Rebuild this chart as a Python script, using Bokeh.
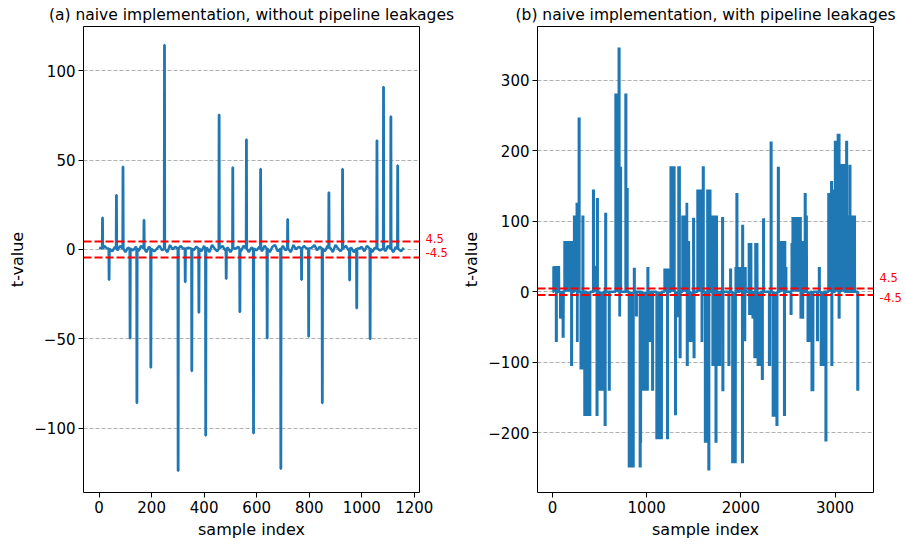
import numpy as np
from bokeh.plotting import figure
from bokeh.layouts import row
from bokeh.models import FixedTicker, Span, CustomJSTickFormatter, Range1d, LinearAxis
from bokeh.embed import file_html
from bokeh.resources import INLINE

# ---------------- data: panel (a) ----------------
a_spike_idx = [13, 38, 66, 91, 118, 144, 171, 197, 249, 301, 328, 353, 380, 406,
               457, 484, 509, 536, 561, 588, 615, 640, 692, 718, 771, 798, 850,
               875, 927, 954, 981, 1032, 1058, 1083, 1111, 1137]
a_spike_val = [17.8, -16.9, 30.4, 46.3, -49.7, -85.9, 16.5, -66.0, 114.4, -123.7,
               -18.2, -68.0, -35.2, -104.0, 75.4, -16.3, 45.9, -35.0, 61.5, -102.7,
               45.0, -49.7, -122.6, 16.9, -16.9, -48.7, -85.9, 31.9, 45.0, -17.2,
               -32.8, -50.0, 60.9, 90.9, 74.4, 46.9]
a_noise_step = 10
a_noise_val = [1.0, -1.5, 2.0, 0.5, 2.5, -1.0, 1.5, -0.5, 2.0, 0.0, -1.5, 1.0, 2.5, -0.5, 1.5, -1.0, 2.0, 0.5, -1.5, 1.5,
               2.5, -1.0, 0.5, 2.0, -0.5, 1.0, -1.5, 2.5, 0.0, 1.5, -1.0, 2.0, 0.5, -1.5, 1.0, 2.5, -0.5, 1.5, 0.0, -1.0,
               2.0, 1.0, -1.5, 2.5, 0.5, -1.0, 1.5, 2.0, -0.5, 1.0, -1.5, 2.5, 0.5, 1.5, -1.0, 2.0, 0.0, -1.5, 1.0, 2.5,
               -0.5, 1.5, -1.0, 2.0, 0.5, -1.5, 1.5, 2.5, -1.0, 0.5, 2.0, -0.5, 1.0, -1.5, 2.5, 0.0, 1.5, -1.0, 2.0, 0.5,
               -1.5, 1.0, 2.5, -0.5, 1.5, 0.0, -1.0, 2.0, 1.0, -1.5, 2.5, 0.5, -1.0, 1.5, 2.0, -0.5, 1.0, -1.5, 2.5, 0.5,
               1.5, -1.0, 2.0, 0.0, -1.5, 1.0, 2.5, -0.5, 1.5, -1.0, 2.0, 0.5, -1.5, 1.5, 2.5, -1.0, 1.0]

# ---------------- data: panel (b) (blocks: start, end, level) ----------------
b_start = [11, 38, 82, 110, 128, 200, 230, 258, 262, 280, 300, 320, 340, 432, 440,
           470, 474, 500, 556, 562, 600, 670, 704, 712, 720, 776, 790, 812, 866,
           888, 928, 935, 950, 1010, 1035, 1060, 1105, 1190, 1218, 1255, 1303,
           1310, 1338, 1352, 1380, 1425, 1428, 1445, 1460, 1495, 1500, 1540, 1585,
           1598, 1620, 1645, 1657, 1690, 1700, 1733, 1760, 1803, 1806, 1870, 1888,
           1910, 1945, 1955, 1990, 2014, 2016, 2035, 2040, 2085, 2090, 2125, 2145,
           2155, 2180, 2225, 2238, 2300, 2318, 2340, 2380, 2395, 2415, 2460, 2475,
           2530, 2540, 2550, 2635, 2650, 2680, 2695, 2710, 2752, 2810, 2830, 2850,
           2900, 2930, 2960, 2963, 2975, 3000, 3030, 3040, 3060, 3120, 3135, 3155,
           3200, 3238]
b_end = [70, 44, 100, 118, 212, 206, 260, 262, 266, 286, 360, 326, 400, 438, 480,
         476, 480, 540, 562, 568, 606, 700, 710, 716, 726, 782, 796, 860, 872,
         894, 934, 940, 1010, 1016, 1040, 1066, 1160, 1230, 1224, 1295, 1309,
         1340, 1350, 1358, 1420, 1430, 1434, 1450, 1500, 1502, 1506, 1585, 1590,
         1604, 1655, 1675, 1663, 1745, 1740, 1739, 1780, 1809, 1812, 1876, 1894,
         1945, 1975, 1961, 2010, 2020, 2022, 2045, 2050, 2110, 2110, 2140, 2160,
         2175, 2210, 2231, 2244, 2310, 2324, 2380, 2386, 2401, 2470, 2466, 2481,
         2536, 2550, 2635, 2660, 2670, 2686, 2700, 2740, 2768, 2816, 2836, 2880,
         2906, 2965, 2966, 2969, 2995, 3030, 3045, 3046, 3100, 3126, 3175, 3161,
         3210, 3244]
b_level = [36, -71, -38, -65, 72, -105, 108, 126, -71, 247, -110, 108, -176, 145,
           37, -176, 133, -140, -190, 112, -140, 281, 346, -35, 177, 281, 147, -249,
           34, -35, -249, -214, -140, 35, -71, -140, -209, 33, -209, 178, -175, -36,
           178, -94, 108, 126, -105, 72, -71, 105, -94, 145, -71, 178, -214, 145,
           -253, 108, -105, -214, -105, 106, -141, -105, 33, -243, 35, 140, 35,
           -243, 95, -70, 35, 69, -33, -38, -94, 69, -105, -125, 104, -105, 213,
           -177, -190, 177, 72, -176, 35, -33, 69, 106, -38, 72, 140, 108, -71,
           -141, -70, 35, -105, -212, 140, 157, -105, 145, 214, 224, -38, 181, 214,
           108, 180, 108, -140]
b_last_sample = 3245

threshold = 4.5

a_xticks = [0, 200, 400, 600, 800, 1000, 1200]
a_yticks = [-100, -50, 0, 50, 100]
b_xticks = [0, 1000, 2000, 3000]
b_yticks = [-200, -100, 0, 100, 200, 300]


# ---------------- build line series ----------------
def series_a():
    pts = []
    for k, v in enumerate(a_noise_val):
        x = k * a_noise_step
        if all(abs(x - s) > 3 for s in a_spike_idx):
            pts.append((x, v))
    for s, v in zip(a_spike_idx, a_spike_val):
        pts += [(s - 1.5, 0.5), (s - 0.6, v), (s + 0.6, v), (s + 1.5, 0.5)]
    pts.sort(key=lambda p: p[0])
    return [p[0] for p in pts], [p[1] for p in pts]


def series_b():
    # each block is drawn densely (the trace flips between level and zero
    # sample after sample, which reads as a solid block in the picture)
    order = np.argsort(b_start, kind="stable")
    xs, ys = [0], [0]
    for i in order:
        s, e, v = b_start[i], b_end[i], b_level[i]
        x = s
        while x <= e:
            xs += [x, x]
            ys += [0, v]
            x += 3
        xs.append(e)
        ys.append(0)
    xs.append(b_last_sample)
    ys.append(0)
    return xs, ys


FONT = "DejaVu Sans"
minus_fmt = CustomJSTickFormatter(code="return tick < 0 ? '\u2212' + Math.abs(tick) : String(tick);")
thr_fmt = CustomJSTickFormatter(code="return tick > 0 ? '4.5' : '-4.5';")


def style(p, xticks, yticks):
    p.title.text_font = FONT
    p.title.text_font_size = "15.5px"
    p.title.text_font_style = "normal"
    p.title.text_color = "black"
    p.title.align = "center"
    p.title.standoff = 6
    p.outline_line_color = "black"
    p.outline_line_width = 1
    p.outline_line_alpha = 1
    p.xgrid.visible = False
    p.ygrid.grid_line_color = "#b0b0b0"
    p.ygrid.grid_line_dash = "4 2"
    p.ygrid.grid_line_width = 1
    p.ygrid.ticker = FixedTicker(ticks=yticks)
    for ax, ticks in ((p.xaxis[0], xticks), (p.yaxis[0], yticks)):
        ax.ticker = FixedTicker(ticks=ticks)
        ax.formatter = minus_fmt
        ax.axis_line_color = None
        ax.major_tick_in = 0
        ax.major_tick_out = 5
        ax.major_tick_line_color = "black"
        ax.minor_tick_line_color = None
        ax.major_label_text_font = FONT
        ax.major_label_text_font_size = "15px"
        ax.major_label_text_color = "black"
        ax.axis_label_text_font = FONT
        ax.axis_label_text_font_size = "16px"
        ax.axis_label_text_font_style = "normal"
        ax.axis_label_text_color = "black"
        ax.major_label_standoff = 3
        ax.axis_label_standoff = 4


def make(title, xs, ys, xr, yr, xticks, yticks, width, bl, br, lab_pos):
    p = figure(width=width, height=544, title=title, output_backend="svg",
               toolbar_location=None, x_range=Range1d(*xr), y_range=Range1d(*yr),
               min_border_left=bl, min_border_right=br, min_border_top=18,
               min_border_bottom=52, x_axis_label="sample index", y_axis_label="t-value")
    style(p, xticks, yticks)
    p.line(xs, ys, line_color="#1f77b4", line_width=2.5)
    for t in (threshold, -threshold):
        p.add_layout(Span(location=t, dimension="width", line_color="red",
                          line_dash="8 3", line_width=2))
    # threshold value labels just right of the frame
    lab = LinearAxis(ticker=FixedTicker(ticks=lab_pos), formatter=thr_fmt,
                     axis_line_color=None, major_tick_line_color=None,
                     major_tick_in=0, major_tick_out=0,
                     minor_tick_line_color=None, minor_tick_in=0, minor_tick_out=0,
                     major_label_standoff=6,
                     major_label_text_color="red", major_label_text_font=FONT,
                     major_label_text_font_size="11.5px")
    p.add_layout(lab, "right")
    return p


ax_x, ax_y = series_a()
bx_x, bx_y = series_b()

pa = make("(a) naive implementation, without pipeline leakages", ax_x, ax_y,
          (-59.4, 1220), (-135.9, 124.7), a_xticks, a_yticks, 458, 83, 39, [6.2, -1.7])
pb = make("(b) naive implementation, with pipeline leakages", bx_x, bx_y,
          (-159, 3408), (-284.3, 375.8), b_xticks, b_yticks, 448, 79, 33, [19.8, -8.5])

layout = row(pa, pb)
open("out.html", "w").write(file_html(layout, INLINE))
